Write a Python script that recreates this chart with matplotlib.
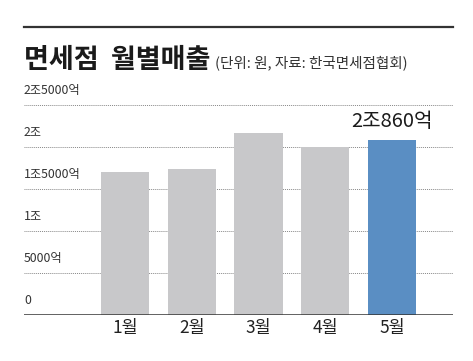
import matplotlib
matplotlib.use('Agg')
import matplotlib.pyplot as plt

plt.rcParams['font.family'] = ['Noto Sans CJK KR', 'DejaVu Sans']

months = ['1월', '2월', '3월', '4월', '5월']
sales = [17020, 17380, 21670, 20000, 20860]   # 억원
ytick_vals = [0, 5000, 10000, 15000, 20000, 25000]
ytick_labels = ['0', '5000억', '1조', '1조5000억', '2조', '2조5000억']
last_label = '2조860억'

grey = '#c8c8ca'
blue = '#5a8ec3'

fig = plt.figure(figsize=(4.73, 3.61), dpi=100)
fig.patch.set_facecolor('white')

# top rule and title
fig.add_artist(plt.Line2D([24/473, 453/473], [1-27/361, 1-27/361],
                          color='#333333', lw=1.6))
fig.text(24/473, 1-68/361, '면세점  월별매출', fontsize=19.5, fontweight='heavy',
         color='#1a1a1a', ha='left', va='baseline')
fig.text(215/473, 1-67/361, '(단위: 원, 자료: 한국면세점협회)', fontsize=10.5,
         color='#333333', ha='left', va='baseline')

ax = fig.add_axes([24/473, 46/361, 429/473, 210/361])
x = list(range(len(months)))
colors = [grey] * (len(months) - 1) + [blue]
ax.bar(x, sales, width=0.72, color=colors, zorder=2)

ax.set_xlim(-1.515, 4.915)
ax.set_ylim(0, 25000)

for v, lab in zip(ytick_vals, ytick_labels):
    if v > 0:
        ax.axhline(v, color='#888888', lw=0.7, ls=(0, (1, 1)), zorder=1)
    ax.text(-1.515, v + 900, lab, fontsize=8.8, color='#333333',
            ha='left', va='bottom', clip_on=False)

ax.axhline(0, color='#333333', lw=1.8, zorder=3)

ax.text(x[-1], sales[-1] + 900, last_label, fontsize=14.5, color='#1a1a1a',
        ha='center', va='bottom')

ax.set_xticks(x)
ax.set_xticklabels(months, fontsize=12.5, color='#222222')
ax.tick_params(axis='x', length=0, pad=3)
ax.set_yticks([])
for s in ax.spines.values():
    s.set_visible(False)

fig.savefig('out.png', dpi=100, facecolor='white')
